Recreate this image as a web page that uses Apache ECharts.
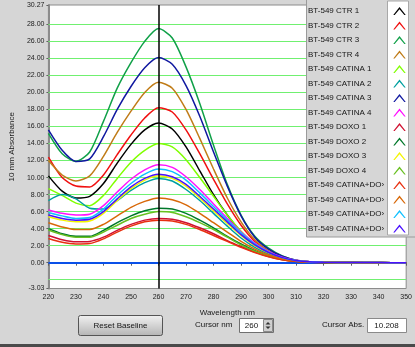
<!DOCTYPE html>
<html><head><meta charset="utf-8">
<script src="https://cdn.jsdelivr.net/npm/echarts@6/dist/echarts.min.js"></script>
<style>html,body{margin:0;padding:0;background:#d6d6d6;overflow:hidden}#c{width:415px;height:347px}</style>
</head><body><div id="c"></div>
<script>
// ---- data ----
const wavelengths = [220,225,230,235,240,245,250,255,260,265,270,275,280,285,290,295,300,305,310,315,320,330,340,350];
const ctr1    = [10.2,8.4,7.6,7.8,9.3,11.7,13.9,15.6,16.4,15.7,13.6,10.8,8.0,5.6,3.6,2.1,1.2,0.55,0.22,0.1,0.04,0.02,0.01,0];
const ctr2    = [12.4,10.0,9.0,8.9,10.3,12.7,15.0,17.0,18.2,17.7,15.6,12.8,9.8,6.9,4.4,2.5,1.3,0.6,0.25,0.1,0.05,0.02,0.01,0];
const ctr3    = [15.2,12.8,11.9,13.0,16.6,20.5,23.5,26.0,27.5,26.4,23.0,18.7,13.8,9.2,5.6,3.1,1.7,0.8,0.3,0.12,0.05,0.02,0.01,0];
const ctr4    = [12.0,10.3,9.6,10.2,12.5,15.3,17.8,20.0,21.2,20.5,18.0,14.6,11.0,7.6,4.8,2.7,1.4,0.65,0.25,0.1,0.05,0.02,0.01,0];
const catina1 = [8.7,7.9,7.0,6.7,7.9,9.9,11.8,13.2,14.0,13.6,12.1,10.0,7.8,5.6,3.7,2.2,1.15,0.55,0.22,0.1,0.04,0.02,0.01,0];
const catina2 = [7.3,8.0,7.5,6.4,6.3,7.3,8.5,9.4,9.9,9.6,8.6,7.3,5.8,4.3,2.9,1.8,1.0,0.5,0.2,0.08,0.04,0.02,0.01,0];
const catina3 = [15.6,13.2,11.9,12.2,14.8,18.0,20.7,22.9,24.1,23.3,20.8,17.2,13.0,9.0,5.5,3.0,1.6,0.75,0.3,0.12,0.05,0.02,0.01,0];
const catina4 = [6.2,5.8,5.6,5.7,6.7,8.3,9.8,10.9,11.5,11.2,10.1,8.6,6.9,5.2,3.6,2.3,1.3,0.65,0.28,0.1,0.05,0.02,0.01,0];
const doxo1   = [3.2,2.7,2.45,2.5,3.0,3.8,4.5,5.0,5.2,5.1,4.7,4.1,3.4,2.6,1.9,1.25,0.72,0.36,0.16,0.07,0.03,0.01,0,0];
const doxo2   = [4.0,3.4,3.1,3.1,3.8,4.7,5.5,6.1,6.4,6.3,5.8,5.0,4.1,3.1,2.2,1.4,0.8,0.4,0.18,0.07,0.03,0.01,0,0];
const doxo3   = [5.4,5.0,4.8,4.9,5.8,7.3,8.7,9.7,10.2,9.9,9.0,7.6,6.1,4.6,3.2,2.0,1.15,0.55,0.25,0.1,0.05,0.02,0.01,0];
const doxo4   = [3.85,3.3,3.0,3.0,3.6,4.4,5.2,5.7,6.0,5.9,5.4,4.7,3.9,3.0,2.1,1.35,0.78,0.38,0.17,0.07,0.03,0.01,0,0];
const catdox1 = [2.85,2.4,2.2,2.25,2.8,3.6,4.3,4.8,5.0,4.9,4.5,3.9,3.2,2.5,1.8,1.2,0.7,0.35,0.15,0.06,0.03,0.01,0,0];
const catdox2 = [4.7,4.2,3.9,3.9,4.5,5.5,6.5,7.2,7.6,7.4,6.8,5.8,4.7,3.6,2.5,1.6,0.9,0.45,0.2,0.08,0.04,0.02,0.01,0];
const catdox3 = [5.9,5.5,5.2,5.3,6.3,7.9,9.3,10.4,11.0,10.7,9.7,8.2,6.6,5.0,3.5,2.2,1.25,0.6,0.27,0.1,0.05,0.02,0.01,0];
const catdox4 = [5.6,5.2,5.0,5.1,6.0,7.5,8.9,9.9,10.4,10.1,9.2,7.8,6.3,4.8,3.3,2.1,1.2,0.6,0.26,0.1,0.05,0.02,0.01,0];

const seriesNames = ['BT-549 CTR 1','BT-549 CTR 2','BT-549 CTR 3','BT-549 CTR 4',
  'BT-549 CATINA 1','BT-549 CATINA 2','BT-549 CATINA 3','BT-549 CATINA 4',
  'BT-549 DOXO 1','BT-549 DOXO 2','BT-549 DOXO 3','BT-549 DOXO 4',
  'BT-549 CATINA+DOXO 1','BT-549 CATINA+DOXO 2','BT-549 CATINA+DOXO 3','BT-549 CATINA+DOXO 4'];
const seriesValues = [ctr1,ctr2,ctr3,ctr4,catina1,catina2,catina3,catina4,doxo1,doxo2,doxo3,doxo4,catdox1,catdox2,catdox3,catdox4];
const seriesColors = ['#000000','#f01010','#10a048','#c07c18','#80ff00','#00a0a0','#1018a0','#ff10ff',
  '#d01030','#00782a','#f4f400','#68c020','#e83010','#d86808','#10c0ff','#4a10ff'];
const yLabelValues = [-3.03,0,2,4,6,8,10,12,14,16,18,20,22,24,26,28,30.27];
const gridLineValues = [-2,2,4,6,8,10,12,14,16,18,20,22,24,26,28];
const xMin = 220, xMax = 350, xStep = 10;
const yMin = -3.03, yMax = 30.27;
const cursorNm = 260;
const cursorAbs = '10.208';

// ---- chart ----
const FONT = "'Liberation Sans', Arial, sans-serif";
const chart = echarts.init(document.getElementById('c'), null, {renderer:'canvas'});

const series = [];
series.push({
  name:'_grid', type:'line', data:[], silent:true, symbol:'none',
  markLine:{ z:1, silent:true, symbol:'none', animation:false, label:{show:false},
    lineStyle:{color:'#70f070', width:1, type:'solid'},
    data: gridLineValues.map(v => ({yAxis:v})).concat([{yAxis:0, lineStyle:{color:'#0a50e8', width:2, type:'solid'}}]) }
});
seriesNames.forEach((n,i) => {
  series.push({
    name:n, type:'line', symbol:'none', smooth:0.25, z:2,
    data: wavelengths.map((w,k) => [w, seriesValues[i][k]]),
    lineStyle:{color:seriesColors[i], width:1.5},
    itemStyle:{color:seriesColors[i]},
    emphasis:{disabled:true}
  });
});
series.push({
  name:'_cursor', type:'line', data:[], silent:true, symbol:'none',
  markLine:{ z:8, silent:true, symbol:'none', animation:false, label:{show:false},
    lineStyle:{color:'#000', width:1.5, type:'solid'}, data:[{xAxis:cursorNm}] }
});

const option = {
  animation:false,
  backgroundColor:'#d6d6d6',
  textStyle:{fontFamily:FONT},
  grid:{left:42, right:5, top:5, bottom:58.5, show:true, backgroundColor:'#ffffff', borderColor:'#8c8c8c', borderWidth:1},
  xAxis:{
    type:'value', min:xMin, max:xMax, interval:xStep,
    name:'Wavelength nm', nameLocation:'middle', nameGap:20,
    nameTextStyle:{fontSize:8, color:'#202020', fontFamily:FONT},
    axisLine:{show:false},
    axisTick:{show:true, length:3, lineStyle:{color:'#606060'}},
    axisLabel:{fontSize:7, color:'#202020', margin:5, fontFamily:FONT},
    splitLine:{show:false}
  },
  yAxis:{
    type:'value', min:yMin, max:yMax,
    name:'10 mm Absorbance', nameLocation:'middle', nameGap:27, nameRotate:90,
    nameTextStyle:{fontSize:8, color:'#202020', fontFamily:FONT},
    axisLine:{show:true, lineStyle:{color:'#8c8c8c', width:2}},
    axisTick:{show:true, length:2, customValues:yLabelValues, lineStyle:{color:'#606060'}},
    axisLabel:{fontSize:7, color:'#202020', margin:4, fontFamily:FONT,
      customValues:yLabelValues, formatter: v => Number(v).toFixed(2)},
    splitLine:{show:false}
  },
  legend:{
    data: seriesNames, orient:'vertical', left:303, top:1, z:10,
    align:'right', itemWidth:17, itemHeight:8, itemGap:4.5, selectedMode:false,
    icon:'path://M0,9 L7,0 L14,9 L12.4,9 L7,2.4 L1.6,9 Z',
    itemStyle:{borderWidth:0},
    formatter: n => '{a|' + (n.length > 16 ? n.slice(0,16) + '\u203A' : n) + '}',
    textStyle:{fontSize:8, color:'#151515', fontFamily:FONT, lineHeight:10,
      rich:{a:{width:78, align:'left', fontSize:8, lineHeight:10, fontFamily:FONT, color:'#151515'}}}
  },
  graphic:[
    {type:'rect', z:5, silent:true, shape:{x:306.5, y:-1, width:110, height:238}, style:{fill:'#d6d6d6', stroke:'#9a9a9a', lineWidth:1}},
    {type:'rect', z:5, silent:true, shape:{x:387.5, y:1, width:21, height:234}, style:{fill:'#ffffff', stroke:'#a8a8a8', lineWidth:1}},
    // Reset Baseline button
    {type:'rect', z:5, silent:true, shape:{x:78.5, y:315.5, width:84, height:20, r:2},
      style:{fill:new echarts.graphic.LinearGradient(0,0,0,1,[{offset:0,color:'#f2f2f2'},{offset:1,color:'#b4b4b4'}]), stroke:'#555', lineWidth:1}},
    {type:'text', z:6, silent:true, style:{x:120.5, y:325.5, text:'Reset Baseline', align:'center', verticalAlign:'middle', font:'8px '+FONT, fill:'#151515'}},
    // Cursor nm
    {type:'text', z:6, silent:true, style:{x:195, y:324.5, text:'Cursor nm', align:'left', verticalAlign:'middle', font:'8px '+FONT, fill:'#151515'}},
    {type:'rect', z:5, silent:true, shape:{x:239.5, y:318.5, width:34, height:14}, style:{fill:'#ffffff', stroke:'#707070', lineWidth:1}},
    {type:'text', z:6, silent:true, style:{x:251.5, y:325.5, text:String(cursorNm), align:'center', verticalAlign:'middle', font:'8px '+FONT, fill:'#151515'}},
    {type:'rect', z:6, silent:true, shape:{x:263.5, y:319.5, width:9, height:12}, style:{fill:'#d0d0d0', stroke:'#8a8a8a', lineWidth:1}},
    {type:'polygon', z:7, silent:true, shape:{points:[[265.5,324.5],[268,322],[270.5,324.5]]}, style:{fill:'#303030'}},
    {type:'polygon', z:7, silent:true, shape:{points:[[265.5,326.5],[268,329],[270.5,326.5]]}, style:{fill:'#303030'}},
    // Cursor Abs
    {type:'text', z:6, silent:true, style:{x:322, y:324.5, text:'Cursor Abs.', align:'left', verticalAlign:'middle', font:'8px '+FONT, fill:'#151515'}},
    {type:'rect', z:5, silent:true, shape:{x:367.5, y:318.5, width:39, height:14}, style:{fill:'#ffffff', stroke:'#8a8a8a', lineWidth:1}},
    {type:'text', z:6, silent:true, style:{x:386.5, y:325.5, text:cursorAbs, align:'center', verticalAlign:'middle', font:'8px '+FONT, fill:'#151515'}},
    // window bottom edge
    {type:'rect', z:5, silent:true, shape:{x:0, y:344, width:415, height:3}, style:{fill:'#4a4a4a'}}
  ],
  series: series
};
chart.setOption(option);
</script>
</body></html>
